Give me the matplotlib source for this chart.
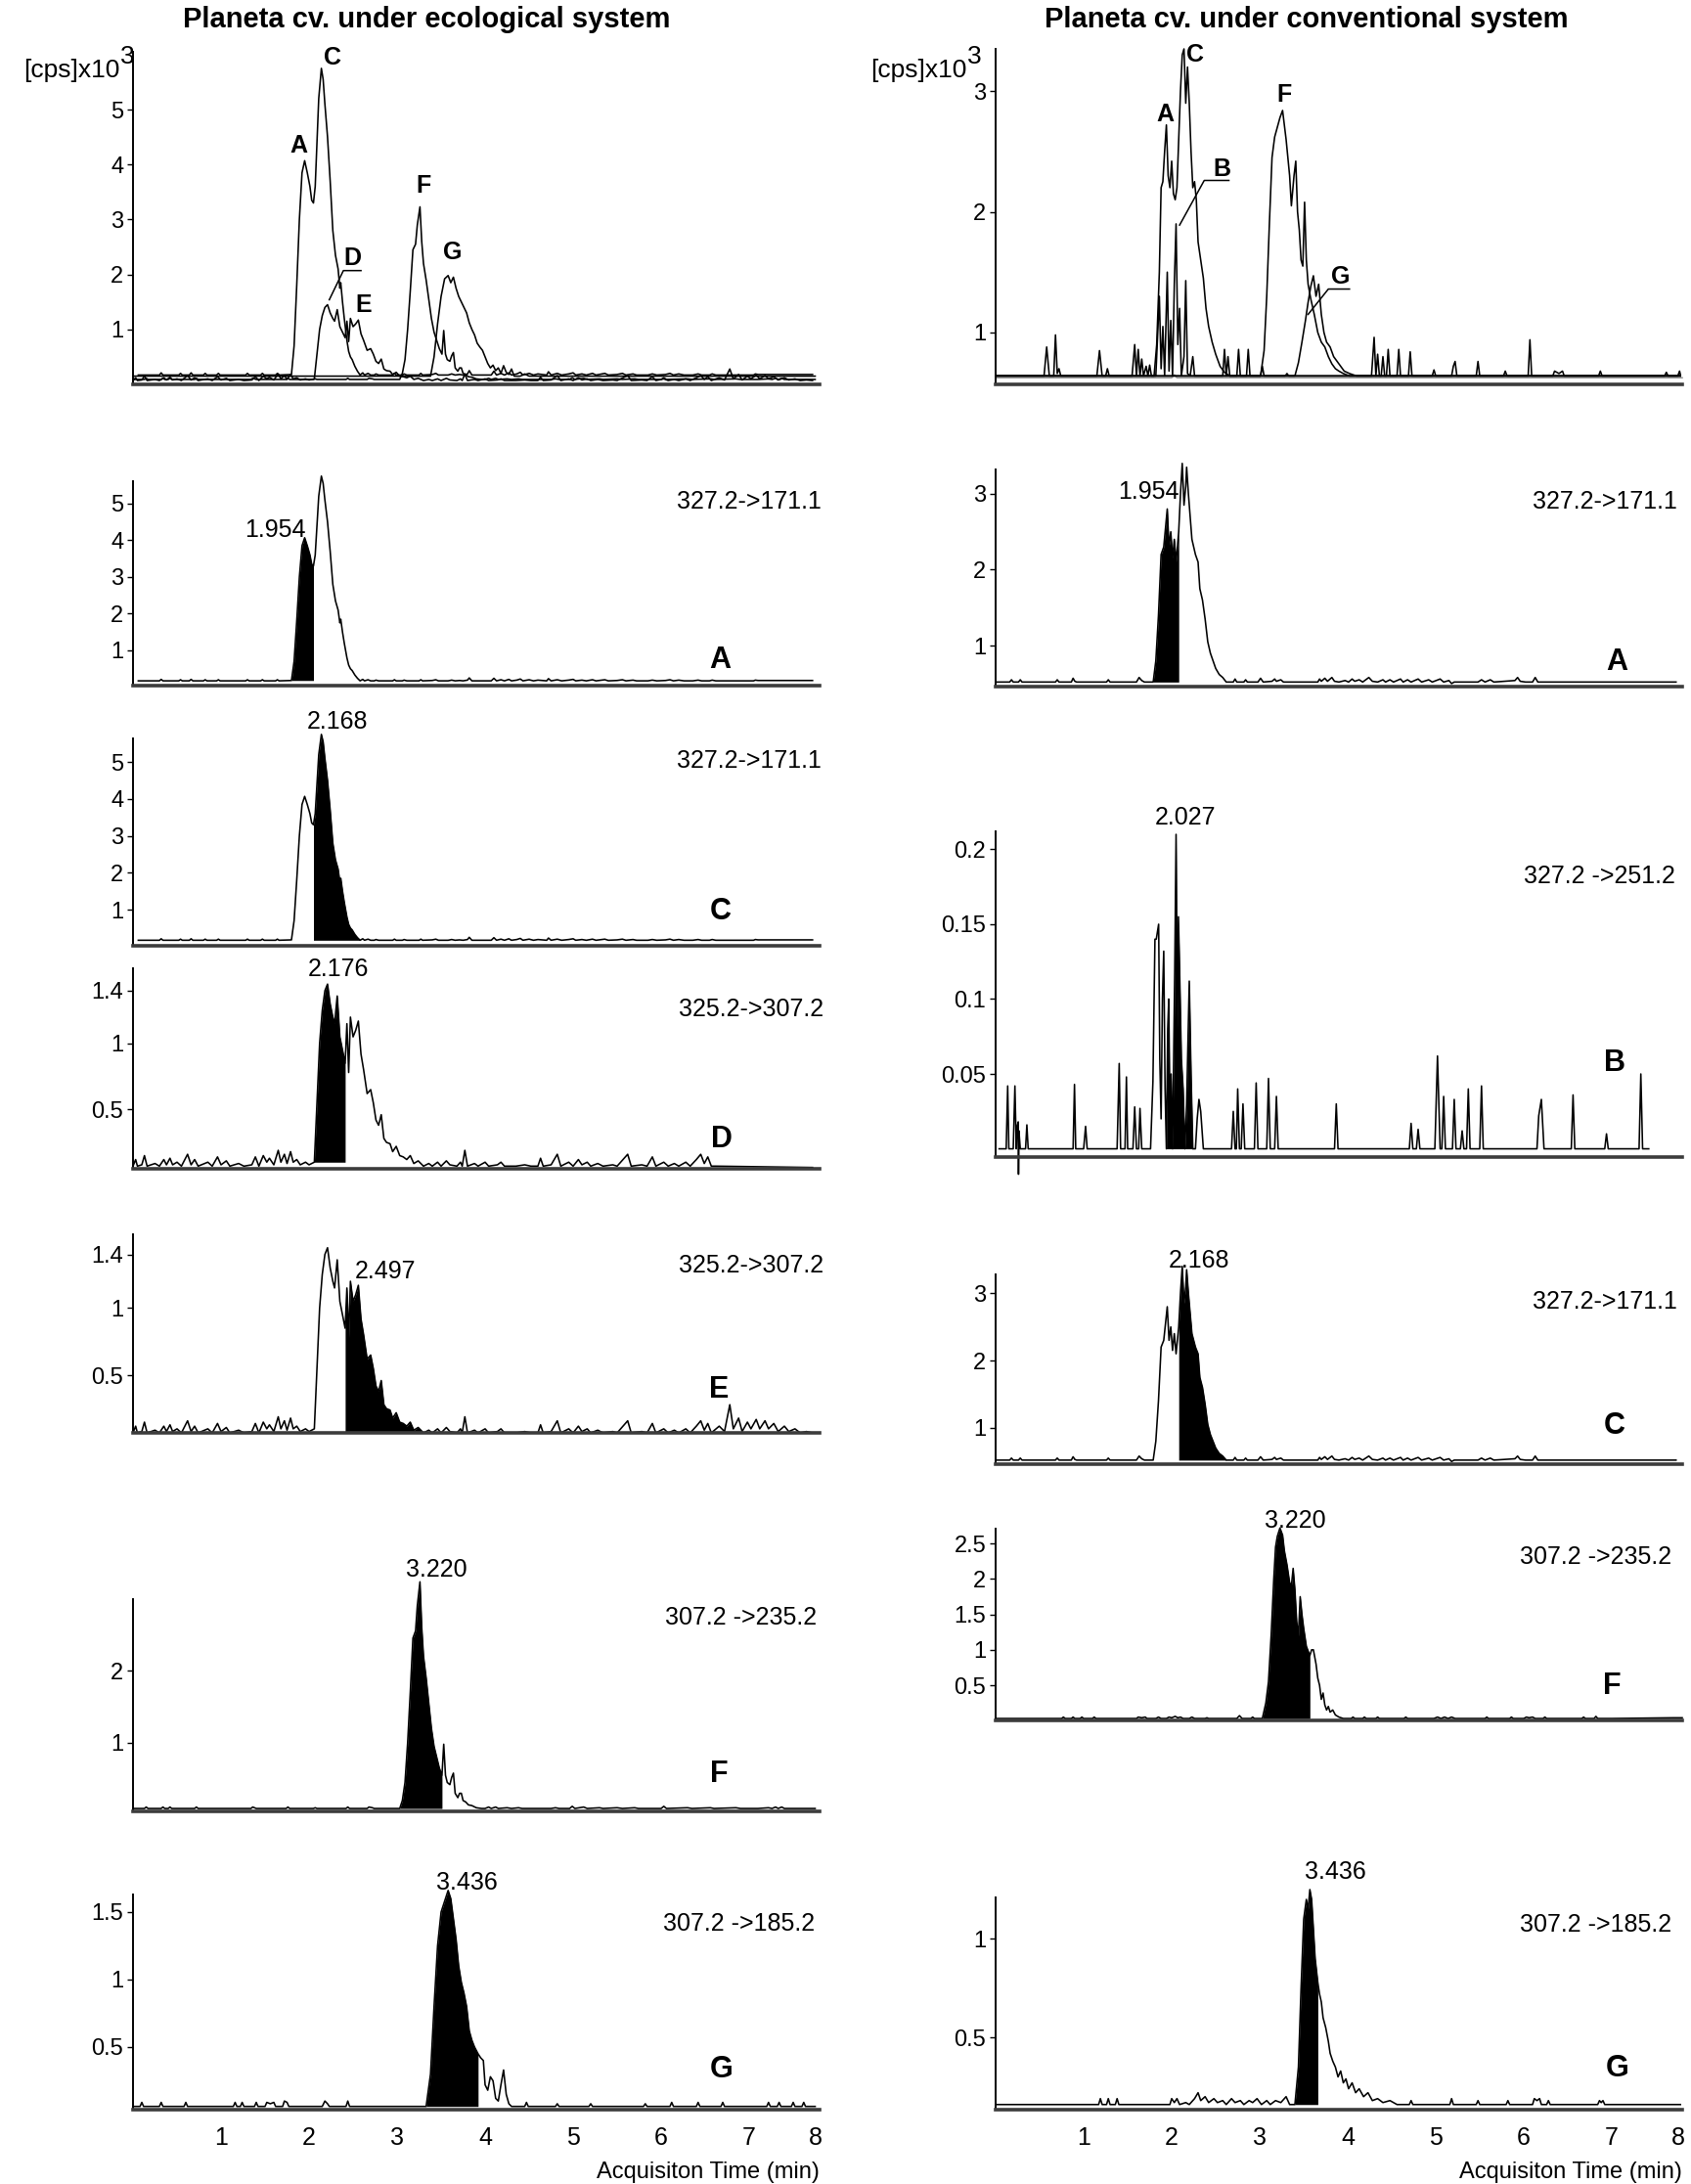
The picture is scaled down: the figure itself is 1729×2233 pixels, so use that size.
import matplotlib
matplotlib.use('Agg')
import matplotlib.pyplot as plt
from matplotlib import font_manager as fm
import numpy as np

# ---- data: (time [min], intensity [cps x 10^3]) ----

# ecological system
eco_171 = [(0.06, 0.17), (0.30, 0.17), (0.32, 0.21), (0.34, 0.17), (0.52, 0.17), (0.54, 0.20), (0.56, 0.17),
           (0.64, 0.17), (0.66, 0.21), (0.68, 0.17), (0.80, 0.17), (0.82, 0.20), (0.84, 0.17), (0.95, 0.17),
           (0.97, 0.20), (0.99, 0.17), (1.28, 0.17), (1.30, 0.20), (1.32, 0.17), (1.45, 0.17), (1.47, 0.20),
           (1.49, 0.17), (1.62, 0.17), (1.64, 0.20), (1.66, 0.17),
           (1.80, 0.18), (1.83, 0.70), (1.86, 1.80), (1.89, 3.00), (1.92, 3.85), (1.95, 4.07), (1.98, 3.85),
           (2.01, 3.60), (2.03, 3.35), (2.05, 3.30), (2.07, 3.60), (2.09, 4.40), (2.11, 5.20), (2.14, 5.75),
           (2.16, 5.55), (2.18, 5.10), (2.21, 4.50), (2.24, 3.70), (2.27, 2.80), (2.30, 2.35), (2.33, 2.10),
           (2.35, 1.75), (2.36, 1.85), (2.38, 1.50), (2.40, 1.20), (2.43, 0.80), (2.45, 0.60), (2.47, 0.50),
           (2.49, 0.45), (2.52, 0.33), (2.55, 0.24), (2.58, 0.17),
           (2.61, 0.21), (2.63, 0.17), (2.67, 0.20), (2.70, 0.17), (2.74, 0.17), (2.76, 0.19), (2.79, 0.17),
           (2.95, 0.17), (2.97, 0.20), (2.99, 0.17), (3.06, 0.17), (3.08, 0.19), (3.11, 0.17), (3.25, 0.17),
           (3.27, 0.20), (3.29, 0.17), (3.40, 0.18), (3.44, 0.20), (3.47, 0.17), (3.58, 0.17), (3.62, 0.19),
           (3.66, 0.17), (3.71, 0.18), (3.75, 0.17), (3.80, 0.19), (3.82, 0.25), (3.85, 0.17), (4.07, 0.17),
           (4.10, 0.24), (4.13, 0.17), (4.18, 0.20), (4.22, 0.17), (4.27, 0.21), (4.30, 0.17), (4.36, 0.19),
           (4.40, 0.22), (4.43, 0.17), (4.50, 0.20), (4.55, 0.17), (4.60, 0.19), (4.70, 0.17), (4.72, 0.23),
           (4.75, 0.17), (4.82, 0.20), (4.87, 0.17), (4.95, 0.19), (5.00, 0.21), (5.03, 0.17), (5.10, 0.19),
           (5.15, 0.17), (5.22, 0.20), (5.26, 0.17), (5.36, 0.20), (5.40, 0.17), (5.50, 0.18), (5.56, 0.20),
           (5.60, 0.17), (5.68, 0.19), (5.72, 0.17), (5.85, 0.17), (5.90, 0.19), (5.95, 0.17), (6.05, 0.18),
           (6.10, 0.20), (6.14, 0.17), (6.20, 0.19), (6.26, 0.17), (6.36, 0.17), (6.42, 0.19), (6.46, 0.17),
           (6.55, 0.17), (6.58, 0.19), (6.62, 0.17), (7.05, 0.17), (7.07, 0.19), (7.10, 0.18), (7.72, 0.18)]

eco_307 = [(0.00, 0.07), (0.03, 0.12), (0.05, 0.07), (0.10, 0.08), (0.13, 0.15), (0.16, 0.07), (0.25, 0.09),
           (0.30, 0.07), (0.35, 0.12), (0.38, 0.08), (0.42, 0.13), (0.45, 0.08), (0.50, 0.10), (0.55, 0.07),
           (0.62, 0.16), (0.66, 0.08), (0.70, 0.12), (0.74, 0.07), (0.85, 0.10), (0.90, 0.07), (0.96, 0.14),
           (1.00, 0.08), (1.06, 0.11), (1.10, 0.07), (1.20, 0.09), (1.26, 0.07), (1.35, 0.08), (1.39, 0.14),
           (1.43, 0.07), (1.48, 0.15), (1.52, 0.10), (1.55, 0.13), (1.60, 0.08), (1.65, 0.19), (1.68, 0.10),
           (1.72, 0.16), (1.75, 0.09), (1.79, 0.18), (1.82, 0.10), (1.86, 0.12), (1.90, 0.08), (1.96, 0.10),
           (2.00, 0.08),
           (2.06, 0.10), (2.09, 0.55), (2.12, 1.00), (2.15, 1.25), (2.18, 1.40), (2.21, 1.45), (2.24, 1.30),
           (2.27, 1.20), (2.29, 1.15), (2.32, 1.36), (2.35, 1.05), (2.38, 0.95), (2.41, 0.85), (2.43, 1.15),
           (2.45, 0.78), (2.47, 1.20), (2.50, 1.05), (2.53, 1.10), (2.56, 1.17), (2.59, 0.92), (2.62, 0.80),
           (2.66, 0.62), (2.70, 0.65), (2.73, 0.55), (2.76, 0.42), (2.79, 0.38), (2.82, 0.46), (2.85, 0.28),
           (2.88, 0.25), (2.92, 0.24), (2.95, 0.18), (2.99, 0.22), (3.03, 0.15), (3.07, 0.14), (3.11, 0.12),
           (3.15, 0.15), (3.19, 0.09), (3.24, 0.11), (3.30, 0.07),
           (3.36, 0.09), (3.40, 0.07), (3.46, 0.10), (3.50, 0.07), (3.56, 0.11), (3.60, 0.08), (3.68, 0.07),
           (3.72, 0.10), (3.74, 0.07), (3.77, 0.19), (3.80, 0.07), (3.88, 0.09), (3.92, 0.07), (4.00, 0.10),
           (4.04, 0.07), (4.14, 0.08), (4.18, 0.10), (4.22, 0.07), (4.35, 0.07), (4.45, 0.08), (4.52, 0.07),
           (4.60, 0.07), (4.63, 0.13), (4.66, 0.07), (4.75, 0.08), (4.82, 0.16), (4.86, 0.07), (4.95, 0.10),
           (5.00, 0.07), (5.06, 0.12), (5.10, 0.08), (5.16, 0.10), (5.20, 0.07), (5.28, 0.09), (5.34, 0.07),
           (5.45, 0.08), (5.50, 0.07), (5.62, 0.16), (5.66, 0.07), (5.78, 0.08), (5.84, 0.07), (5.90, 0.14),
           (5.94, 0.07), (6.03, 0.10), (6.08, 0.07), (6.15, 0.09), (6.20, 0.07), (6.28, 0.10), (6.33, 0.07),
           (6.40, 0.12), (6.45, 0.16), (6.49, 0.09), (6.53, 0.14), (6.57, 0.07), (6.66, 0.12), (6.72, 0.08),
           (6.78, 0.28), (6.82, 0.10), (6.88, 0.18), (6.92, 0.08), (6.98, 0.15), (7.02, 0.10), (7.08, 0.17),
           (7.12, 0.10), (7.18, 0.16), (7.22, 0.10), (7.28, 0.14), (7.33, 0.08), (7.40, 0.12), (7.45, 0.08),
           (7.52, 0.10), (7.58, 0.07), (7.65, 0.08), (7.72, 0.07)]

# in the D window the 325.2->307.2 trace stops at 6.6 min and runs flat
eco_307_d_cut = 6.57
eco_307_d_tail = [(6.62, 0.07), (7.72, 0.06)]

eco_235 = [(0.00, 0.09), (0.13, 0.09), (0.15, 0.11), (0.17, 0.09), (0.32, 0.09), (0.34, 0.11), (0.36, 0.09),
           (0.40, 0.09), (0.42, 0.11), (0.44, 0.09), (0.70, 0.09), (0.72, 0.11), (0.74, 0.09), (1.34, 0.09),
           (1.36, 0.11), (1.40, 0.09), (1.74, 0.09), (1.76, 0.11), (1.78, 0.09), (2.05, 0.09), (2.07, 0.10),
           (2.09, 0.09), (2.42, 0.09), (2.44, 0.11), (2.46, 0.09), (2.66, 0.09), (2.68, 0.11), (2.72, 0.10),
           (2.74, 0.09),
           (3.03, 0.09), (3.06, 0.20), (3.09, 0.45), (3.12, 1.00), (3.15, 1.70), (3.18, 2.45), (3.21, 2.55),
           (3.23, 2.90), (3.26, 3.23), (3.28, 2.60), (3.30, 2.20), (3.33, 1.90), (3.36, 1.55), (3.39, 1.20),
           (3.42, 0.95), (3.45, 0.80), (3.48, 0.65), (3.51, 0.55), (3.53, 0.98), (3.55, 0.55), (3.57, 0.45),
           (3.60, 0.42), (3.62, 0.52), (3.64, 0.58), (3.66, 0.30), (3.69, 0.24), (3.71, 0.30), (3.73, 0.30),
           (3.75, 0.20), (3.78, 0.18), (3.81, 0.14), (3.85, 0.13), (3.90, 0.10), (3.96, 0.09),
           (4.00, 0.09), (4.04, 0.11), (4.07, 0.09), (4.12, 0.11), (4.15, 0.09), (4.25, 0.10), (4.30, 0.09),
           (4.38, 0.10), (4.42, 0.09), (4.75, 0.09), (4.80, 0.10), (4.84, 0.09), (4.96, 0.09), (4.99, 0.12),
           (5.02, 0.09), (5.12, 0.11), (5.16, 0.09), (5.30, 0.10), (5.34, 0.09), (5.50, 0.10), (5.56, 0.09),
           (5.70, 0.10), (5.74, 0.09), (6.00, 0.09), (6.03, 0.12), (6.06, 0.09), (6.30, 0.10), (6.35, 0.09),
           (6.56, 0.10), (6.60, 0.09), (6.85, 0.10), (6.90, 0.09), (7.10, 0.09), (7.22, 0.10), (7.26, 0.09),
           (7.30, 0.11), (7.33, 0.09), (7.37, 0.11), (7.40, 0.09), (7.75, 0.09)]

eco_185 = [(0.00, 0.06), (0.08, 0.06), (0.10, 0.09), (0.12, 0.06), (0.30, 0.06), (0.32, 0.09), (0.34, 0.06),
           (0.58, 0.06), (0.60, 0.09), (0.62, 0.06), (1.14, 0.06), (1.16, 0.09), (1.18, 0.06), (1.22, 0.06),
           (1.24, 0.09), (1.26, 0.06), (1.38, 0.06), (1.40, 0.09), (1.42, 0.06), (1.50, 0.06), (1.52, 0.09),
           (1.56, 0.08), (1.60, 0.09), (1.62, 0.06), (1.70, 0.06), (1.72, 0.10), (1.75, 0.09), (1.77, 0.06),
           (2.15, 0.06), (2.18, 0.10), (2.21, 0.08), (2.23, 0.06), (2.42, 0.06), (2.44, 0.10), (2.46, 0.06),
           (3.33, 0.06), (3.38, 0.30), (3.42, 0.80), (3.46, 1.25), (3.50, 1.50), (3.54, 1.58), (3.58, 1.66),
           (3.61, 1.60), (3.64, 1.45), (3.67, 1.30), (3.70, 1.10), (3.73, 0.98), (3.76, 0.90), (3.79, 0.80),
           (3.82, 0.62), (3.85, 0.55), (3.88, 0.50), (3.92, 0.45), (3.95, 0.42), (3.98, 0.40), (4.00, 0.22),
           (4.03, 0.18), (4.06, 0.28), (4.09, 0.25), (4.12, 0.12), (4.15, 0.10), (4.18, 0.22), (4.21, 0.33),
           (4.24, 0.15), (4.27, 0.08), (4.30, 0.06),
           (4.45, 0.06), (4.47, 0.09), (4.49, 0.06), (4.80, 0.06), (4.82, 0.08), (4.84, 0.06), (5.18, 0.06),
           (5.20, 0.08), (5.22, 0.06), (5.80, 0.06), (5.82, 0.08), (5.84, 0.06), (6.10, 0.06), (6.12, 0.09),
           (6.14, 0.06), (6.40, 0.06), (6.42, 0.09), (6.44, 0.06), (6.68, 0.06), (6.70, 0.09), (6.72, 0.06),
           (7.20, 0.06), (7.22, 0.09), (7.24, 0.06), (7.32, 0.06), (7.34, 0.09), (7.36, 0.06), (7.48, 0.06),
           (7.50, 0.09), (7.52, 0.06), (7.60, 0.06), (7.62, 0.09), (7.64, 0.06), (7.75, 0.06)]

# G as it appears in the ecological overview
eco_185_tic = [(0.00, 0.15), (3.38, 0.15), (3.42, 0.50), (3.46, 1.10), (3.50, 1.60), (3.54, 1.92), (3.58, 1.98),
               (3.61, 1.85), (3.64, 1.95), (3.67, 1.75), (3.70, 1.60), (3.73, 1.50), (3.76, 1.40), (3.79, 1.30),
               (3.82, 1.12), (3.85, 1.00), (3.88, 0.90), (3.91, 0.75), (3.94, 0.68), (3.97, 0.62), (4.00, 0.50),
               (4.03, 0.38), (4.06, 0.30), (4.09, 0.35), (4.12, 0.25), (4.15, 0.30), (4.18, 0.20), (4.21, 0.34),
               (4.24, 0.22), (4.27, 0.18), (4.30, 0.28), (4.33, 0.15), (4.40, 0.15), (4.45, 0.19), (4.50, 0.15),
               (7.75, 0.15)]

# conventional system
conv_171 = [(0.00, 0.52), (0.16, 0.52), (0.18, 0.55), (0.20, 0.52), (0.26, 0.52), (0.28, 0.55), (0.30, 0.52),
            (0.68, 0.52), (0.70, 0.55), (0.72, 0.52), (0.86, 0.52), (0.88, 0.57), (0.90, 0.53), (0.92, 0.52),
            (1.26, 0.52), (1.28, 0.55), (1.30, 0.52), (1.60, 0.52), (1.63, 0.58), (1.66, 0.54), (1.69, 0.52),
            (1.79, 0.52), (1.82, 0.80), (1.85, 1.40), (1.88, 2.20), (1.91, 2.30), (1.93, 2.55), (1.95, 2.80),
            (1.97, 2.30), (1.99, 2.50), (2.01, 2.15), (2.03, 2.40), (2.05, 2.10), (2.08, 2.50), (2.10, 3.00),
            (2.12, 3.40), (2.14, 2.85), (2.16, 3.10), (2.17, 3.35), (2.19, 3.00), (2.21, 2.70), (2.23, 2.40),
            (2.25, 2.30), (2.27, 2.20), (2.30, 2.10), (2.32, 1.75), (2.35, 1.60), (2.38, 1.35), (2.41, 1.05),
            (2.44, 0.90), (2.47, 0.80), (2.50, 0.70), (2.54, 0.62), (2.58, 0.58), (2.62, 0.52),
            (2.70, 0.52), (2.72, 0.56), (2.74, 0.52), (2.82, 0.52), (2.84, 0.55), (2.86, 0.52), (2.98, 0.52),
            (3.01, 0.57), (3.04, 0.52), (3.14, 0.53), (3.17, 0.56), (3.19, 0.53), (3.24, 0.55), (3.27, 0.52),
            (3.66, 0.52), (3.68, 0.56), (3.70, 0.53), (3.74, 0.57), (3.77, 0.53), (3.82, 0.58), (3.85, 0.53),
            (3.90, 0.52), (3.97, 0.54), (4.01, 0.52), (4.05, 0.56), (4.08, 0.53), (4.13, 0.55), (4.17, 0.52),
            (4.24, 0.58), (4.28, 0.53), (4.34, 0.52), (4.40, 0.55), (4.43, 0.52), (4.48, 0.55), (4.52, 0.52),
            (4.60, 0.56), (4.63, 0.52), (4.68, 0.55), (4.72, 0.52), (4.80, 0.56), (4.84, 0.52), (4.92, 0.55),
            (4.96, 0.52), (5.05, 0.56), (5.09, 0.52), (5.15, 0.54), (5.18, 0.50), (5.21, 0.52), (5.48, 0.52),
            (5.52, 0.55), (5.56, 0.52), (5.62, 0.55), (5.66, 0.52), (5.90, 0.54), (5.93, 0.58), (5.96, 0.53),
            (6.02, 0.52), (6.10, 0.52), (6.13, 0.58), (6.16, 0.52), (6.80, 0.52), (7.73, 0.52)]

conv_251 = [(0.04, 0.0), (0.12, 0.0), (0.137, 0.042), (0.15, 0.0), (0.20, 0.0), (0.219, 0.042), (0.235, 0.0),
            (0.245, 0.015), (0.257, 0.018), (0.26, -0.017), (0.265, 0.012), (0.28, 0.0), (0.34, 0.0),
            (0.355, 0.016), (0.37, 0.0), (0.88, 0.0), (0.896, 0.043), (0.91, 0.0), (1.00, 0.0), (1.022, 0.015),
            (1.04, 0.0), (1.38, 0.0), (1.404, 0.057), (1.42, 0.0), (1.47, 0.0), (1.486, 0.048), (1.50, 0.0),
            (1.56, 0.0), (1.58, 0.028), (1.60, 0.0), (1.625, 0.0), (1.64, 0.027), (1.66, 0.0),
            (1.76, 0.0), (1.787, 0.045), (1.81, 0.14), (1.825, 0.14), (1.852, 0.15), (1.865, 0.06),
            (1.88, 0.02), (1.895, 0.10), (1.91, 0.132), (1.925, 0.04), (1.94, 0.0), (1.955, 0.08),
            (1.967, 0.10), (1.98, 0.02), (1.994, 0.05), (2.01, 0.0), (2.035, 0.12), (2.05, 0.21),
            (2.065, 0.08), (2.077, 0.155), (2.09, 0.12), (2.11, 0.06), (2.13, 0.04), (2.15, 0.0),
            (2.17, 0.03), (2.20, 0.112), (2.22, 0.05), (2.24, 0.0),
            (2.27, 0.0), (2.29, 0.02), (2.31, 0.033), (2.33, 0.025), (2.36, 0.0), (2.68, 0.0), (2.70, 0.025),
            (2.72, 0.0), (2.735, 0.0), (2.75, 0.04), (2.77, 0.0), (2.79, 0.0), (2.81, 0.03), (2.83, 0.0),
            (2.94, 0.0), (2.96, 0.044), (2.98, 0.0), (3.08, 0.0), (3.10, 0.047), (3.12, 0.0), (3.17, 0.0),
            (3.19, 0.035), (3.21, 0.0), (3.85, 0.0), (3.87, 0.03), (3.89, 0.0), (4.70, 0.0), (4.72, 0.017),
            (4.74, 0.0), (4.78, 0.0), (4.80, 0.013), (4.82, 0.0), (4.99, 0.0), (5.02, 0.062), (5.05, 0.0),
            (5.07, 0.0), (5.09, 0.035), (5.11, 0.0), (5.19, 0.0), (5.21, 0.033), (5.23, 0.0), (5.28, 0.0),
            (5.30, 0.012), (5.32, 0.0), (5.35, 0.0), (5.37, 0.04), (5.39, 0.0), (5.50, 0.0), (5.52, 0.042),
            (5.54, 0.0), (6.15, 0.0), (6.17, 0.022), (6.20, 0.033), (6.23, 0.0), (6.54, 0.0), (6.56, 0.036),
            (6.58, 0.0), (6.92, 0.0), (6.94, 0.01), (6.96, 0.0), (7.31, 0.0), (7.33, 0.05), (7.35, 0.0),
            (7.42, 0.0)]

conv_235 = [(0.00, 0.03), (0.75, 0.03), (0.77, 0.05), (0.79, 0.03), (0.86, 0.03), (0.88, 0.05), (0.90, 0.03),
            (0.96, 0.03), (0.98, 0.05), (1.00, 0.03), (1.10, 0.03), (1.12, 0.05), (1.14, 0.03), (1.60, 0.03),
            (1.62, 0.05), (1.66, 0.04), (1.70, 0.05), (1.72, 0.03), (1.82, 0.03), (1.85, 0.05), (1.88, 0.03),
            (1.94, 0.03), (1.97, 0.05), (2.00, 0.04), (2.04, 0.06), (2.07, 0.04), (2.10, 0.05), (2.13, 0.03),
            (2.20, 0.03), (2.23, 0.05), (2.26, 0.03), (2.38, 0.03), (2.40, 0.04), (2.42, 0.03), (2.74, 0.03),
            (2.77, 0.07), (2.80, 0.03), (2.90, 0.03), (2.92, 0.05), (2.94, 0.03),
            (3.03, 0.03), (3.07, 0.25), (3.10, 0.55), (3.13, 1.20), (3.16, 2.00), (3.18, 2.45), (3.20, 2.60),
            (3.23, 2.72), (3.26, 2.62), (3.28, 2.40), (3.31, 2.20), (3.34, 1.95), (3.36, 1.90), (3.38, 2.15),
            (3.40, 1.85), (3.42, 1.40), (3.44, 1.20), (3.46, 1.75), (3.48, 1.50), (3.50, 1.30), (3.53, 1.05),
            (3.57, 0.92), (3.59, 1.00), (3.61, 1.00), (3.64, 0.80), (3.66, 0.60), (3.68, 0.50), (3.70, 0.30),
            (3.72, 0.39), (3.74, 0.22), (3.76, 0.15), (3.78, 0.20), (3.80, 0.12), (3.83, 0.15), (3.86, 0.08),
            (3.90, 0.05), (3.95, 0.03),
            (4.04, 0.03), (4.06, 0.05), (4.08, 0.03), (4.17, 0.03), (4.19, 0.05), (4.21, 0.03), (4.32, 0.03),
            (4.34, 0.05), (4.36, 0.03), (4.64, 0.03), (4.66, 0.05), (4.68, 0.03), (4.98, 0.03), (5.02, 0.05),
            (5.06, 0.03), (5.10, 0.05), (5.14, 0.03), (5.18, 0.05), (5.22, 0.03), (5.56, 0.03), (5.58, 0.05),
            (5.60, 0.03), (5.84, 0.03), (5.86, 0.05), (5.88, 0.03), (6.00, 0.03), (6.03, 0.05), (6.06, 0.04),
            (6.10, 0.05), (6.13, 0.03), (6.22, 0.03), (6.24, 0.05), (6.26, 0.03), (6.66, 0.03), (6.68, 0.05),
            (6.70, 0.03), (6.80, 0.03), (6.82, 0.06), (6.84, 0.03), (7.00, 0.03), (7.70, 0.04), (7.80, 0.04)]

conv_185 = [(0.00, 0.16), (1.17, 0.16), (1.19, 0.19), (1.21, 0.16), (1.26, 0.16), (1.28, 0.19), (1.30, 0.16),
            (1.36, 0.16), (1.38, 0.19), (1.40, 0.16), (1.98, 0.16), (2.00, 0.19), (2.03, 0.17), (2.06, 0.19),
            (2.09, 0.16), (2.16, 0.17), (2.20, 0.16), (2.26, 0.19), (2.30, 0.22), (2.33, 0.18), (2.38, 0.20),
            (2.42, 0.17), (2.48, 0.19), (2.52, 0.17), (2.58, 0.18), (2.62, 0.16), (2.68, 0.19), (2.72, 0.17),
            (2.78, 0.18), (2.82, 0.16), (2.88, 0.18), (2.92, 0.17), (2.97, 0.19), (3.02, 0.16), (3.08, 0.18),
            (3.12, 0.16), (3.18, 0.18), (3.24, 0.17), (3.30, 0.20), (3.34, 0.16),
            (3.40, 0.16), (3.44, 0.35), (3.47, 0.75), (3.50, 1.10), (3.53, 1.20), (3.55, 1.15), (3.57, 1.25),
            (3.59, 1.20), (3.61, 1.05), (3.63, 0.90), (3.66, 0.78), (3.68, 0.72), (3.70, 0.68), (3.72, 0.60),
            (3.75, 0.55), (3.78, 0.48), (3.80, 0.42), (3.83, 0.38), (3.86, 0.35), (3.89, 0.30), (3.92, 0.33),
            (3.95, 0.27), (3.98, 0.29), (4.01, 0.24), (4.05, 0.27), (4.09, 0.22), (4.13, 0.24), (4.18, 0.20),
            (4.23, 0.22), (4.28, 0.18), (4.34, 0.19), (4.40, 0.17), (4.48, 0.18), (4.56, 0.16),
            (4.70, 0.16), (4.72, 0.18), (4.74, 0.16), (5.16, 0.16), (5.18, 0.19), (5.20, 0.16), (5.46, 0.16),
            (5.48, 0.18), (5.50, 0.16), (5.80, 0.16), (5.82, 0.18), (5.84, 0.16), (6.10, 0.16), (6.12, 0.19),
            (6.15, 0.18), (6.18, 0.19), (6.20, 0.16), (6.26, 0.16), (6.28, 0.18), (6.30, 0.16), (6.84, 0.16),
            (6.86, 0.18), (6.88, 0.17), (6.90, 0.18), (6.92, 0.16), (7.78, 0.16)]

# traces as they appear in the conventional overview
conv_tic_171 = [(0.00, 0.64), (1.80, 0.64), (1.83, 0.90), (1.86, 1.50), (1.88, 2.20), (1.90, 2.25), (1.92, 2.50),
                (1.94, 2.72), (1.96, 2.30), (1.98, 2.20), (2.00, 2.42), (2.02, 2.15), (2.04, 2.10), (2.06, 2.20),
                (2.08, 2.60), (2.10, 3.00), (2.12, 3.30), (2.14, 3.35), (2.16, 2.90), (2.18, 3.20), (2.20, 2.90),
                (2.22, 2.50), (2.24, 2.20), (2.26, 2.25), (2.28, 2.10), (2.30, 1.75), (2.33, 1.60), (2.36, 1.45),
                (2.39, 1.20), (2.42, 1.05), (2.46, 0.92), (2.50, 0.82), (2.55, 0.72), (2.60, 0.67), (2.66, 0.64),
                (7.78, 0.64)]

conv_tic_251 = [(0.00, 0.64), (0.55, 0.64), (0.58, 0.88), (0.61, 0.64), (0.66, 0.64), (0.68, 0.98), (0.70, 0.66),
                (0.72, 0.70), (0.74, 0.64), (1.15, 0.64), (1.18, 0.85), (1.21, 0.64), (1.25, 0.64), (1.27, 0.70),
                (1.29, 0.64), (1.55, 0.64), (1.58, 0.90), (1.60, 0.64), (1.62, 0.86), (1.64, 0.64), (1.66, 0.78),
                (1.68, 0.64), (1.71, 0.72), (1.73, 0.64), (1.75, 0.73), (1.77, 0.64), (1.82, 0.64), (1.86, 1.30),
                (1.88, 0.70), (1.90, 1.05), (1.92, 0.64), (1.95, 1.50), (1.97, 0.68), (1.99, 1.10), (2.01, 0.64),
                (2.03, 1.40), (2.05, 1.90), (2.07, 0.90), (2.09, 1.20), (2.11, 0.64), (2.14, 0.80), (2.16, 1.43),
                (2.18, 0.66), (2.21, 0.64), (2.24, 0.80), (2.26, 0.64), (2.58, 0.64), (2.60, 0.86), (2.62, 0.64),
                (2.64, 0.80), (2.66, 0.64), (2.74, 0.64), (2.76, 0.86), (2.78, 0.64), (2.85, 0.64), (2.87, 0.86),
                (2.89, 0.64), (3.01, 0.64), (3.03, 0.72), (3.05, 0.64), (3.29, 0.64), (3.31, 0.66), (3.33, 0.64),
                (4.27, 0.64), (4.30, 0.96), (4.32, 0.64), (4.34, 0.82), (4.36, 0.64), (4.38, 0.64), (4.40, 0.80),
                (4.42, 0.64), (4.44, 0.64), (4.46, 0.86), (4.48, 0.64), (4.56, 0.64), (4.58, 0.86), (4.60, 0.64),
                (4.69, 0.64), (4.71, 0.84), (4.73, 0.64), (4.96, 0.64), (4.98, 0.69), (5.00, 0.64), (5.18, 0.64),
                (5.20, 0.72), (5.22, 0.76), (5.24, 0.64), (5.46, 0.64), (5.48, 0.76), (5.50, 0.64), (5.77, 0.64),
                (5.79, 0.68), (5.81, 0.64), (6.05, 0.64), (6.07, 0.94), (6.09, 0.64), (6.33, 0.64), (6.35, 0.68),
                (6.40, 0.66), (6.44, 0.68), (6.46, 0.64), (6.85, 0.64), (6.87, 0.68), (6.89, 0.64), (7.60, 0.64),
                (7.62, 0.67), (7.64, 0.64), (7.75, 0.64), (7.77, 0.68), (7.78, 0.65)]

conv_tic_235 = [(0.00, 0.64), (3.01, 0.64), (3.05, 0.85), (3.08, 1.30), (3.11, 1.90), (3.14, 2.45), (3.17, 2.62),
                (3.20, 2.70), (3.23, 2.78), (3.26, 2.84), (3.28, 2.72), (3.30, 2.60), (3.32, 2.45), (3.34, 2.30),
                (3.36, 2.05), (3.39, 2.30), (3.41, 2.42), (3.43, 2.00), (3.45, 1.85), (3.47, 1.60), (3.49, 1.55),
                (3.51, 2.08), (3.53, 1.60), (3.55, 1.40), (3.58, 1.28), (3.62, 1.15), (3.66, 1.00), (3.70, 0.92),
                (3.74, 0.88), (3.78, 0.80), (3.82, 0.74), (3.86, 0.70), (3.90, 0.68), (3.95, 0.66), (4.02, 0.64),
                (7.78, 0.64)]

conv_tic_185 = [(0.00, 0.64), (3.40, 0.64), (3.44, 0.75), (3.48, 0.92), (3.52, 1.10), (3.55, 1.25), (3.58, 1.38),
                (3.61, 1.47), (3.64, 1.30), (3.67, 1.40), (3.70, 1.15), (3.73, 1.00), (3.76, 0.92), (3.80, 0.88),
                (3.84, 0.80), (3.88, 0.76), (3.92, 0.72), (3.96, 0.68), (4.02, 0.66), (4.10, 0.64), (7.78, 0.64)]

conv_tic_307 = [(0.00, 0.625), (2.00, 0.625), (2.03, 0.65), (2.06, 0.625), (7.80, 0.625)]

x_tick_pos = [1, 2, 3, 4, 5, 6, 7, 7.75]
x_tick_labels = ['1', '2', '3', '4', '5', '6', '7', '8']

# ---- drawing ----
W, H = 1729, 2233
AX_W = 702
names = {f.name for f in fm.fontManager.ttflist}
NARROW = 'Liberation Sans Narrow' if 'Liberation Sans Narrow' in names else 'Liberation Sans'
plt.rcParams['font.family'] = ['Liberation Sans', 'DejaVu Sans']

fig = plt.figure(figsize=(W / 100, H / 100), dpi=100)


def panel(left, top, bottom, ylim, yticks):
    ax = fig.add_axes([left / W, 1 - bottom / H, AX_W / W, (bottom - top) / H])
    ax.set_xlim(0, 7.8)
    ax.set_ylim(*ylim)
    ax.patch.set_visible(False)
    for s in ('top', 'right'):
        ax.spines[s].set_visible(False)
    ax.spines['left'].set_linewidth(1.4)
    ax.spines['bottom'].set_linewidth(2.6)
    ax.spines['bottom'].set_color('#3c3c3c')
    ax.set_yticks(yticks)
    ax.set_yticklabels(['%g' % v for v in yticks], fontsize=17)
    ax.tick_params(axis='y', length=4, width=1, pad=3)
    ax.set_xticks([])
    return ax


def trace(ax, pts, fill=None, color='black', lw=1.15):
    t, y = np.array(pts).T
    ax.plot(t, y, color=color, lw=lw, clip_on=False)
    if fill is not None:
        m = (t >= fill[0]) & (t <= fill[1])
        ax.fill_between(t[m], y[m], y[m].min(), color='black', lw=0, clip_on=False)


def label(ax, x, y, s, size=18, ha='center'):
    ax.text(x, y, s, fontsize=size, ha=ha, va='center', clip_on=False)


def letter(ax, x, y, s, size=22):
    ax.text(x, y, s, fontsize=size, fontweight='bold', family=[NARROW, 'Liberation Sans'],
            ha='center', va='center', clip_on=False)


LX, RX = 136, 1018

# overview, ecological
ax = panel(LX, 53, 393, (0, 6.05), [1, 2, 3, 4, 5])
for pts in (eco_171, eco_307, eco_235, eco_185_tic):
    trace(ax, pts)
for s, x, y in (('A', 1.88, 4.35), ('C', 2.27, 5.95), ('D', 2.49, 2.30), ('E', 2.62, 1.45),
                ('F', 3.30, 3.62), ('G', 3.63, 2.40)):
    letter(ax, x, y, s, size=18)
ax.plot([2.59, 2.39, 2.23], [2.07, 2.07, 1.54], color='black', lw=1.1, clip_on=False)

# overview, conventional
ax = panel(RX, 50, 393, (0.57, 3.35), [1, 2, 3])
trace(ax, conv_tic_307, color='#9a9a9a')
for pts in (conv_tic_251, conv_tic_171, conv_tic_235, conv_tic_185):
    trace(ax, pts)
for s, x, y in (('A', 1.93, 2.81), ('C', 2.27, 3.30), ('B', 2.57, 2.35), ('F', 3.28, 2.97), ('G', 3.92, 1.46)):
    letter(ax, x, y, s, size=18)
ax.plot([2.65, 2.37, 2.09], [2.26, 2.26, 1.89], color='black', lw=1.1, clip_on=False)
ax.plot([4.02, 3.78, 3.55], [1.36, 1.36, 1.15], color='black', lw=1.1, clip_on=False)

# cps labels
for x0 in (122, 988):
    fig.text(x0 / W, 1 - 72 / H, '[cps]x10', fontsize=19, ha='right', va='center')
    fig.text((x0 + 1) / W, 1 - 58 / H, '3', fontsize=19, ha='left', va='center')

eco_307_d = [p for p in eco_307 if p[0] <= eco_307_d_cut] + eco_307_d_tail

# individual transitions
# (column x, top, bottom, ylim, yticks, trace, fill window, rt label, rt pos, transition, trans pos, letter, letter pos)
panels = [
    (LX, 492, 701, (0.04, 5.61), [1, 2, 3, 4, 5], eco_171, (1.80, 2.05), '1.954', (1.62, 4.29),
     '327.2->171.1', (7.82, 5.04), 'A', (6.67, 0.73)),
    (LX, 755, 967, (0.02, 5.64), [1, 2, 3, 4, 5], eco_171, (2.05, 2.58), '2.168', (2.32, 6.09),
     '327.2->171.1', (7.82, 5.03), 'C', (6.67, 0.96)),
    (LX, 990, 1195, (0.05, 1.57), [0.5, 1, 1.4], eco_307_d, (2.06, 2.41), '2.176', (2.33, 1.56),
     '325.2->307.2', (7.85, 1.26), 'D', (6.69, 0.27)),
    (LX, 1262, 1465, (0.07, 1.55), [0.5, 1, 1.4], eco_307, (2.41, 3.30), '2.497', (2.87, 1.27),
     '325.2->307.2', (7.85, 1.32), 'E', (6.66, 0.39)),
    (LX, 1635, 1852, (0.05, 2.99), [1, 2], eco_235, (3.03, 3.51), '3.220', (3.45, 3.39),
     '307.2 ->235.2', (7.77, 2.73), 'F', (6.66, 0.57)),
    (LX, 1937, 2157, (0.036, 1.63), [0.5, 1, 1.5], eco_185, (3.33, 3.92), '3.436', (3.79, 1.72),
     '307.2 ->185.2', (7.75, 1.41), 'G', (6.68, 0.33)),
    (RX, 480, 702, (0.46, 3.32), [1, 2, 3], conv_171, (1.79, 2.08), '1.954', (1.74, 3.03),
     '327.2->171.1', (7.74, 2.90), 'A', (7.06, 0.78)),
    (RX, 850, 1183, (-0.0055, 0.212), [0.05, 0.1, 0.15, 0.2], conv_251, (1.94, 2.24), '2.027', (2.15, 0.221),
     '327.2 ->251.2', (7.72, 0.182), 'B', (7.03, 0.057)),
    (RX, 1303, 1497, (0.46, 3.28), [1, 2, 3], conv_171, (2.08, 2.62), '2.168', (2.31, 3.48),
     '327.2->171.1', (7.74, 2.88), 'C', (7.03, 1.02)),
    (RX, 1563, 1759, (0.003, 2.71), [0.5, 1, 1.5, 2, 2.5], conv_235, (3.03, 3.57), '3.220', (3.40, 2.82),
     '307.2 ->235.2', (7.68, 2.31), 'F', (7.00, 0.48)),
    (RX, 1940, 2157, (0.134, 1.21), [0.5, 1], conv_185, (3.40, 3.66), '3.436', (3.86, 1.34),
     '307.2 ->185.2', (7.68, 1.07), 'G', (7.06, 0.34)),
]

for (x0, top, bot, ylim, yt, pts, win, rt, rtpos, tr, trpos, let, letpos) in panels:
    ax = panel(x0, top, bot, ylim, yt)
    trace(ax, pts, fill=win)
    label(ax, rtpos[0], rtpos[1], rt)
    label(ax, trpos[0], trpos[1], tr, ha='right')
    letter(ax, letpos[0], letpos[1], let)
    if bot == 2157:
        ax.set_xticks(x_tick_pos)
        ax.set_xticklabels(x_tick_labels, fontsize=18, family=[NARROW, 'Liberation Sans'])
        ax.tick_params(axis='x', length=0, pad=12)
        fig.text((x0 + AX_W) / W, 1 - 2221 / H, 'Acquisiton Time (min)', fontsize=17,
                 family=[NARROW, 'Liberation Sans'], ha='right', va='center')

# column titles
for xc, s in ((436, 'Planeta cv. under ecological system'), (1336, 'Planeta cv. under conventional system')):
    fig.text(xc / W, 1 - 20 / H, s, fontsize=21, fontweight='bold', family=[NARROW, 'Liberation Sans'],
             ha='center', va='center')

fig.savefig('out.png', dpi=100, facecolor='white')
